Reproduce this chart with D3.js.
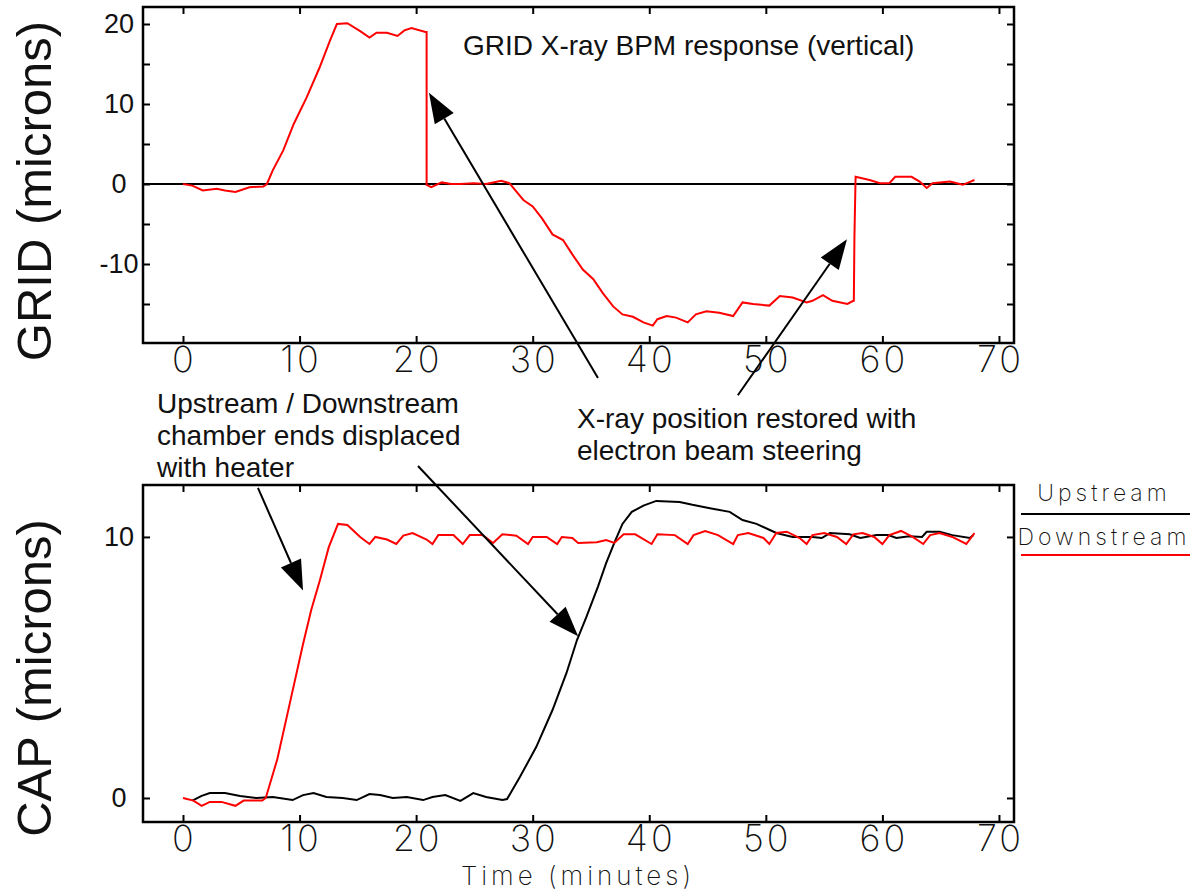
<!DOCTYPE html>
<html>
<head>
<meta charset="utf-8">
<script src="https://cdn.jsdelivr.net/npm/d3@7"></script>
<style>
  body { margin: 0; background: #fff; }
  svg { display: block; }
  .sans { font-family: "Liberation Sans", Arial, sans-serif; fill: #111; }
  .thin { font-family: Inter, "DejaVu Sans", sans-serif; font-weight: 200; fill: #111; }
</style>
</head>
<body>
<script>
// time (minutes) and GRID vertical response (microns)
var gridTime = [0, 0.8, 1.7, 2.9, 3.6, 4.5, 5.7, 6.9, 7.2, 7.7, 8.6, 9.5, 10.6, 11.7, 12.6, 13.2, 14.1, 15.2, 16.0, 16.6,
  17.5, 18.4, 19.0, 19.6, 20.8, 20.9, 20.9, 21.3, 22.2, 23.0, 23.8, 24.9, 26.0, 27.3, 28.0, 29.2, 30.0, 30.8, 31.7, 32.6,
  33.4, 34.3, 35.2, 36.0, 36.9, 37.7, 38.6, 39.5, 40.3, 40.7, 41.5, 42.3, 43.3, 44.0, 44.9, 46.0, 47.2, 48.0, 48.9, 50.3,
  51.2, 52.3, 53.5, 54.0, 54.9, 55.7, 57.0, 57.5, 57.55, 57.6, 57.7, 58.9, 59.8, 60.6, 61.1, 62.5, 63.2, 63.8, 64.3, 65.8,
  66.9, 67.9];
var gridVal = [0, -0.2, -0.8, -0.6, -0.8, -1.0, -0.4, -0.3, 0, 1.7, 4.2, 7.5, 10.8, 14.5, 17.9, 20.0, 20.1, 19.1, 18.3, 18.9,
  18.9, 18.5, 19.2, 19.5, 19.0, 19.0, -0.1, -0.4, 0.2, 0, 0, 0.1, 0, 0.4, 0.1, -2.0, -2.8, -4.3, -6.3, -7.0,
  -8.8, -10.7, -11.9, -13.6, -15.3, -16.3, -16.6, -17.3, -17.7, -16.9, -16.5, -16.7, -17.3, -16.3, -15.9, -16.1, -16.5, -14.8, -15.0, -15.2,
  -14.0, -14.2, -14.8, -14.6, -13.9, -14.6, -15.0, -14.6, -14.6, -6.7, 0.9, 0.5, 0.1, 0.1, 0.9, 0.9, 0.3, -0.5, 0.1, 0.3,
  -0.1, 0.5];

// CAP upstream (black)
var upTime = [0.8, 1.6, 2.3, 3.6, 4.9, 6.3, 7.7, 9.4, 10.3, 11.2, 12.3, 13.7, 14.9, 16.0, 16.9, 18.0, 19.2, 20.6, 21.4, 22.5,
  23.8, 24.9, 26.0, 27.4, 27.8, 28.9, 30.3, 31.7, 32.9, 33.8, 34.6, 35.6, 36.3, 37.0, 37.7, 38.5, 39.5, 40.6, 42.6, 43.7,
  45.2, 46.9, 48.0, 49.2, 50.9, 52.3, 54.0, 54.8, 55.5, 57.2, 58.1, 59.5, 60.5, 61.2, 62.3, 63.4, 63.8, 64.9, 66.0, 67.5, 67.8];
var upVal = [-0.1, 0.08, 0.19, 0.19, 0.08, 0, 0.04, -0.08, 0.11, 0.19, 0.04, 0, -0.08, 0.15, 0.11, 0, 0.04, -0.08, 0.04, 0.11,
  -0.11, 0.19, 0.04, -0.08, -0.04, 0.8, 1.95, 3.37, 4.79, 6.05, 6.93, 8.1, 9.0, 9.77, 10.5, 10.96, 11.2, 11.38, 11.34, 11.23,
  11.1, 10.96, 10.65, 10.5, 10.15, 10.0, 10.0, 9.96, 10.15, 10.1, 9.96, 10.07, 10.07, 9.96, 10.03, 10.0, 10.2, 10.2, 10.07, 9.96, 10.07];

// CAP downstream (red)
var downTime = [0, 0.9, 1.6, 2.3, 3.3, 4.5, 5.2, 6.8, 7.1, 8.1, 9.2, 10.3, 11.0, 11.75, 12.5, 13.3, 14.1, 15.2, 16.0, 16.5,
  17.5, 18.3, 18.9, 19.7, 20.9, 21.4, 21.9, 23.2, 24.0, 24.6, 25.7, 26.6, 27.4, 28.6, 29.6, 30.0, 31.2, 32.1, 32.5, 33.4,
  33.9, 35.5, 36.3, 37.0, 37.8, 38.8, 40.2, 40.7, 42.2, 43.3, 43.8, 44.8, 45.9, 47.2, 47.6, 48.5, 49.8, 50.3, 50.9, 51.8,
  52.9, 53.5, 54.0, 55.0, 56.1, 56.9, 57.5, 58.3, 59.3, 60.0, 60.6, 61.6, 62.6, 63.5, 64.1, 64.9, 66.0, 67.2, 67.9];
var downVal = [0, -0.1, -0.3, -0.15, -0.15, -0.3, -0.1, -0.1, 0, 1.5, 3.7, 5.9, 7.2, 8.35, 9.6, 10.5, 10.46, 10.0, 9.73, 10.0,
  9.9, 9.73, 10.05, 10.15, 9.9, 9.73, 10.07, 10.07, 9.73, 10.07, 10.07, 9.77, 10.1, 10.05, 9.73, 10.0, 10.0, 9.73, 10.0, 9.96,
  9.77, 9.8, 9.88, 9.77, 10.1, 10.1, 9.73, 10.1, 10.07, 9.73, 10.07, 10.23, 10.07, 9.73, 10.07, 10.15, 9.96, 9.73, 10.15, 10.2,
  9.96, 9.73, 10.07, 10.15, 10.0, 9.73, 10.1, 10.15, 10.0, 9.73, 10.07, 10.23, 10.0, 9.73, 10.07, 10.15, 10.0, 9.73, 10.15];

var xTicks = [0, 10, 20, 30, 40, 50, 60, 70];
var gridTicks = [-15, -10, -5, 0, 5, 10, 15, 20];
var gridLabels = [-10, 0, 10, 20];
var capTicks = [0, 10];
var legendNames = ['Upstream', 'Downstream'];
var legendColors = ['#000', '#ff0000'];

// annotation arrows: [panel, tailT, tailV, tipT, tipV]
var arrows = [
  ['grid', 35.6, -24.25, 21.1, 11.4],
  ['grid', 47.6, -26.4, 56.96, -6.9],
  ['cap', 6.43, 11.88, 10.3, 7.95],
  ['cap', 20.16, 12.72, 33.9, 6.2]
];

var W = 1190, H = 892;
var svg = d3.select('body').append('svg').attr('width', W).attr('height', H);

var x = d3.scaleLinear().domain([-3.431, 71.29]).range([143, 1014]);
var yGrid = d3.scaleLinear().domain([-19.875, 22.125]).range([343, 7]);
var yCap = d3.scaleLinear().domain([-0.92, 11.99]).range([822, 485]);

function zip(t, v) { return t.map(function(d, i) { return [d, v[i]]; }); }

function panel(y, yTicks, yLabels) {
  var top = y.range()[1], bottom = y.range()[0];
  var g = svg.append('g');

  g.append('g').attr('transform', 'translate(0,' + bottom + ')')
    .call(d3.axisBottom(x).tickValues(xTicks).tickSize(-7).tickPadding(3))
    .call(function(a) {
      a.select('.domain').remove();
      a.selectAll('line').attr('stroke', '#000').attr('stroke-width', 2);
      a.selectAll('text').attr('class', 'thin').attr('font-size', 36).attr('letter-spacing', 3)
        .attr('dx', 1);
    });
  g.append('g').attr('transform', 'translate(0,' + top + ')')
    .call(d3.axisTop(x).tickValues(xTicks).tickSize(-7).tickFormat(''))
    .call(function(a) { a.select('.domain').remove(); a.selectAll('line').attr('stroke-width', 2); });
  g.append('g').attr('transform', 'translate(143,0)')
    .call(d3.axisLeft(y).tickValues(yTicks).tickSize(-7)
      .tickFormat(function(d) { return yLabels.indexOf(d) >= 0 ? d : ''; }))
    .call(function(a) {
      a.select('.domain').remove();
      a.selectAll('line').attr('stroke-width', 2);
      a.selectAll('text').attr('class', 'sans').attr('font-size', 27)
        .attr('text-anchor', 'middle').attr('x', -24);
    });
  g.append('g').attr('transform', 'translate(1014,0)')
    .call(d3.axisRight(y).tickValues(yTicks).tickSize(-7).tickFormat(''))
    .call(function(a) { a.select('.domain').remove(); a.selectAll('line').attr('stroke-width', 2); });

  g.append('rect').attr('x', 143).attr('y', top).attr('width', 1014 - 143).attr('height', bottom - top)
    .attr('fill', 'none').attr('stroke', '#000').attr('stroke-width', 2.5);
  return g;
}

var gGrid = panel(yGrid, gridTicks, gridLabels);
var gCap = panel(yCap, capTicks, capTicks);

var line = function(y) {
  return d3.line().x(function(d) { return x(d[0]); }).y(function(d) { return y(d[1]); });
};

gGrid.append('line').attr('x1', 143).attr('x2', 1014).attr('y1', yGrid(0)).attr('y2', yGrid(0))
  .attr('stroke', '#000').attr('stroke-width', 2);
gGrid.append('path').datum(zip(gridTime, gridVal)).attr('d', line(yGrid))
  .attr('fill', 'none').attr('stroke', '#ff0000').attr('stroke-width', 2);

gCap.append('path').datum(zip(upTime, upVal)).attr('d', line(yCap))
  .attr('fill', 'none').attr('stroke', '#000').attr('stroke-width', 2);
gCap.append('path').datum(zip(downTime, downVal)).attr('d', line(yCap))
  .attr('fill', 'none').attr('stroke', '#ff0000').attr('stroke-width', 2);

// titles
svg.append('text').attr('class', 'sans').attr('x', 463).attr('y', 55).attr('font-size', 28)
  .text('GRID X-ray BPM response (vertical)');
svg.append('text').attr('class', 'sans').attr('font-size', 49).attr('text-anchor', 'middle')
  .attr('transform', 'translate(51,' + 191 + ') rotate(-90)').text('GRID (microns)');
svg.append('text').attr('class', 'sans').attr('font-size', 49).attr('text-anchor', 'middle')
  .attr('transform', 'translate(51,' + 678 + ') rotate(-90)').text('CAP (microns)');
svg.append('text').attr('class', 'thin').attr('x', 578).attr('y', 885).attr('font-size', 26)
  .attr('letter-spacing', 4).attr('text-anchor', 'middle').text('Time (minutes)');

// annotation text
var note1 = ['Upstream / Downstream', 'chamber ends displaced', 'with heater'];
var note2 = ['X-ray position restored with', 'electron beam steering'];
svg.selectAll('text.n1').data(note1).enter().append('text').attr('class', 'sans')
  .attr('x', 157).attr('y', function(d, i) { return 413 + i * 32; }).attr('font-size', 28).text(function(d) { return d; });
svg.selectAll('text.n2').data(note2).enter().append('text').attr('class', 'sans')
  .attr('x', 577).attr('y', function(d, i) { return 428 + i * 32; }).attr('font-size', 28).text(function(d) { return d; });

// arrows
arrows.forEach(function(a) {
  var y = a[0] === 'grid' ? yGrid : yCap;
  var x0 = x(a[1]), y0 = y(a[2]), x1 = x(a[3]), y1 = y(a[4]);
  var ang = Math.atan2(y1 - y0, x1 - x0);
  var len = 30, hw = 11;
  var bx = x1 - len * Math.cos(ang), by = y1 - len * Math.sin(ang);
  svg.append('line').attr('x1', x0).attr('y1', y0).attr('x2', bx).attr('y2', by)
    .attr('stroke', '#000').attr('stroke-width', 2);
  var pts = [[x1, y1],
    [bx + hw * Math.sin(ang), by - hw * Math.cos(ang)],
    [bx - hw * Math.sin(ang), by + hw * Math.cos(ang)]];
  svg.append('polygon').attr('points', pts.map(function(p) { return p.join(','); }).join(' '))
    .attr('fill', '#000');
});

// legend
var leg = svg.append('g');
legendNames.forEach(function(name, i) {
  leg.append('text').attr('class', 'thin').attr('x', 1104).attr('y', 501 + i * 44)
    .attr('font-size', 23).attr('letter-spacing', 4).attr('text-anchor', 'middle').text(name);
  leg.append('line').attr('x1', 1021).attr('x2', 1190).attr('y1', 514 + i * 41).attr('y2', 514 + i * 41)
    .attr('stroke', legendColors[i]).attr('stroke-width', 2);
});
</script>
</body>
</html>
